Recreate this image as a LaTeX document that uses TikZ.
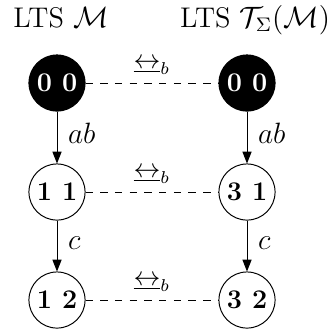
\documentclass[tikz,border=0pt]{standalone}
\usetikzlibrary{arrows.meta}
\begin{document}
\begin{tikzpicture}[x=0.408pt,y=-0.408pt,
  title/.style={anchor=base,font=\fontsize{11.6}{14}\selectfont},
  state/.style={circle,draw,thin,minimum size=22.9pt,inner sep=0pt,
    font=\fontsize{11}{13}\selectfont\bfseries},
  init/.style={state,fill=black,text=white},
  trans/.style={thin,-{Triangle[length=4.8pt,width=3.7pt]}},
  lbl/.style={right,xshift=1pt,font=\fontsize{12}{14}\selectfont},
  bisim/.style={thin,dashed},
  bisimlbl/.style={above,font=\fontsize{10.5}{12}\selectfont}]
\useasboundingbox (0,0) rectangle (332,331);
% column titles
\node[title] (tl) at (61,27) {LTS $\mathcal{M}$};
\node[title] (tr) at (255,27) {LTS $\mathcal{T}_{\Sigma}(\mathcal{M})$};
% left system
\node[init]  (l0) at (57,83)  {0 0};
\node[state] (l1) at (57,192) {1 1};
\node[state] (l2) at (57,300) {1 2};
% right system
\node[init]  (r0) at (247,83)  {0 0};
\node[state] (r1) at (247,192) {3 1};
\node[state] (r2) at (247,300) {3 2};
% transitions
\draw[trans] (l0) -- node[lbl,pos=0.42] {$ab$} (l1);
\draw[trans] (l1) -- node[lbl,pos=0.45] {$c$} (l2);
\draw[trans] (r0) -- node[lbl,pos=0.42] {$ab$} (r1);
\draw[trans] (r1) -- node[lbl,pos=0.45] {$c$} (r2);
% branching bisimulation relation
\draw[bisim] (l0) -- node[bisimlbl] {$\underline{\leftrightarrow}_b$} (r0);
\draw[bisim] (l1) -- node[bisimlbl] {$\underline{\leftrightarrow}_b$} (r1);
\draw[bisim] (l2) -- node[bisimlbl] {$\underline{\leftrightarrow}_b$} (r2);
\end{tikzpicture}
\end{document}
